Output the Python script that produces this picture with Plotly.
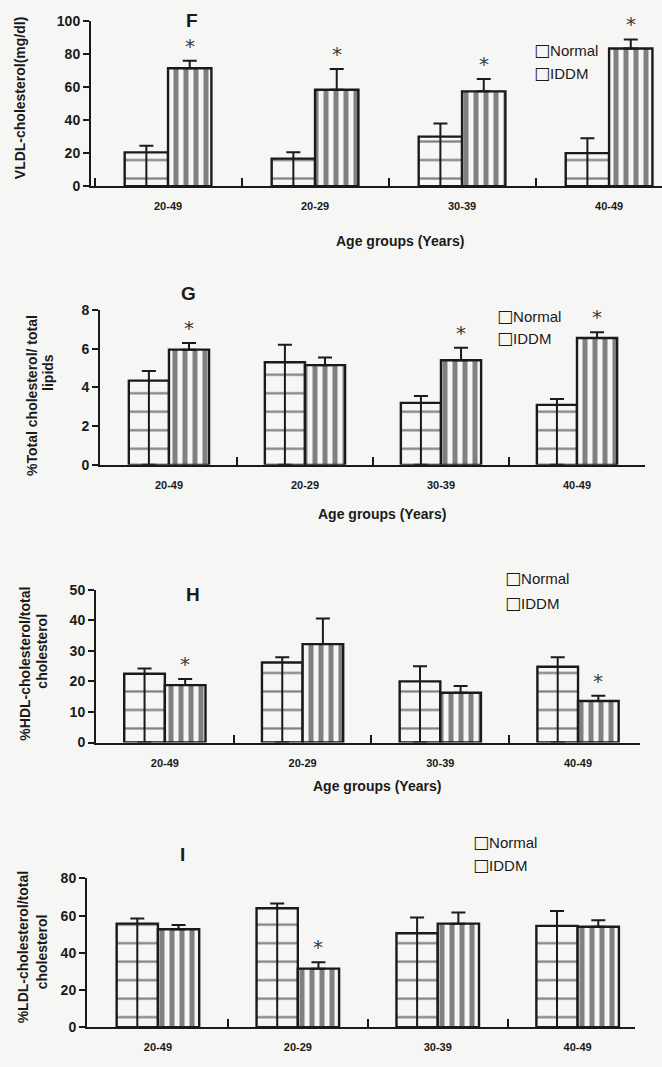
import plotly.graph_objects as go

# ---------------- data ----------------
groups = ["20-49", "20-29", "30-39", "40-49"]

vldl_normal = [20.5, 16.7, 30.0, 20.0]
vldl_normal_top = [24.5, 20.5, 38.0, 29.0]
vldl_iddm = [71.5, 58.5, 57.5, 83.5]
vldl_iddm_top = [76.0, 71.0, 65.0, 89.0]
vldl_star = [True, True, True, True]

tc_normal = [4.35, 5.3, 3.2, 3.1]
tc_normal_top = [4.85, 6.2, 3.55, 3.4]
tc_iddm = [5.95, 5.15, 5.4, 6.55]
tc_iddm_top = [6.3, 5.55, 6.05, 6.85]
tc_star = [True, False, True, True]

hdl_normal = [22.5, 26.2, 20.0, 24.8]
hdl_normal_top = [24.2, 27.9, 25.0, 27.9]
hdl_iddm = [18.8, 32.2, 16.3, 13.6]
hdl_iddm_top = [20.8, 40.6, 18.5, 15.3]
hdl_star = [True, False, False, True]

ldl_normal = [55.7, 64.0, 50.5, 54.5]
ldl_normal_top = [58.4, 66.5, 59.0, 62.5]
ldl_iddm = [52.7, 31.5, 55.7, 54.0]
ldl_iddm_top = [55.0, 35.0, 61.7, 57.5]
ldl_star = [False, True, False, False]

panel_letters = ["F", "G", "H", "I"]
y_titles = [
    ["VLDL-cholesterol(mg/dl)"],
    ["%Total cholesterol/ total", "lipids"],
    ["%HDL-cholesterol/total", "cholesterol"],
    ["%LDL-cholesterol/total", "cholesterol"],
]
y_max = [100, 8, 50, 80]
y_dtick = [20, 2, 10, 20]
x_title = "Age groups (Years)"
legend_labels = ["Normal", "IDDM"]

# ---------------- layout geometry (pixels) ----------------
W, H = 662, 1067
BG = "#f6f6f4"
INK = "#1a1a1a"


def px(x):
    return x / W


def py(y):
    # small vertical correction for how the page is captured
    ys = (y - 7.7) / 0.986
    return 1 - ys / H


panels_geo = [
    dict(x0=91, x1=662, ybot=186, ytop=21, xr=[-0.524, 3.36]),
    dict(x0=100, x1=645, ybot=465, ytop=310, xr=[-0.507, 3.5]),
    dict(x0=96, x1=640, ybot=743, ytop=590, xr=[-0.50, 3.45]),
    dict(x0=87, x1=635, ybot=1028, ytop=879, xr=[-0.507, 3.41]),
]
title_pos = [(192, 20), (188, 293), (193, 595), (183, 855)]
legend_pos = [(532, 50, 73), (495, 316, 338), (503, 578, 603), (471, 843, 866)]
xtitle_pos = [(400, 241), (382, 514), (377, 786), None]
ytitle_pos = [
    [(20, 98)],
    [(32, 396), (48, 373)],
    [(25, 664), (42, 652)],
    [(23, 948), (42, 953)],
]

data_sets = [
    (vldl_normal, vldl_normal_top, vldl_iddm, vldl_iddm_top, vldl_star),
    (tc_normal, tc_normal_top, tc_iddm, tc_iddm_top, tc_star),
    (hdl_normal, hdl_normal_top, hdl_iddm, hdl_iddm_top, hdl_star),
    (ldl_normal, ldl_normal_top, ldl_iddm, ldl_iddm_top, ldl_star),
]

BARGAP = 0.41

fig = go.Figure()
annotations = []
layout_axes = {}


def paper_text(x, y, text, size, bold=False, angle=0, xanchor="center"):
    font = dict(family="Liberation Sans", size=size, color=INK)
    if bold:
        font["weight"] = "bold"
    return dict(x=px(x), y=py(y), xref="paper", yref="paper", text=text,
                showarrow=False, xanchor=xanchor, yanchor="middle",
                textangle=angle, font=font)


for i, (nv, nt, dv, dt, stars) in enumerate(data_sets):
    k = "" if i == 0 else str(i + 1)
    xa, ya = "x" + k, "y" + k
    g = panels_geo[i]

    # Normal: horizontal-line pattern; the error bar runs from the base to the
    # upper limit, giving the single vertical divider seen in the original.
    fig.add_trace(go.Bar(
        x=groups, y=nv, name=legend_labels[0], xaxis=xa, yaxis=ya, showlegend=False,
        marker=dict(color=BG, line=dict(color=INK, width=2.4),
                    pattern=dict(shape="-", fgcolor="#0a0a0a", bgcolor=BG,
                                 size=18.5, solidity=0.12)),
        error_y=dict(type="data", symmetric=False,
                     array=[t - v for t, v in zip(nt, nv)],
                     arrayminus=nv,
                     color=INK, thickness=2, width=7),
    ))
    fig.add_trace(go.Bar(
        x=groups, y=dv, name=legend_labels[1], xaxis=xa, yaxis=ya, showlegend=False,
        marker=dict(color=BG, line=dict(color=INK, width=2.4),
                    pattern=dict(shape="|", fgcolor="#0a0a0a", bgcolor=BG,
                                 size=10, solidity=0.5)),
        error_y=dict(type="data", symmetric=False,
                     array=[t - v for t, v in zip(dt, dv)],
                     arrayminus=[0] * len(dv),
                     color=INK, thickness=2, width=7),
    ))

    spacing = (g["x1"] - g["x0"]) / (g["xr"][1] - g["xr"][0])
    iddm_shift = (1 - BARGAP) / 4 * spacing

    layout_axes["xaxis" + k] = dict(
        type="category", domain=[px(g["x0"]), px(g["x1"])], anchor=ya,
        range=g["xr"], showline=True, linecolor=INK, linewidth=2,
        ticks="inside", tickson="boundaries", ticklen=8, tickwidth=1.5,
        tickcolor=INK, showgrid=False, zeroline=False,
        tickfont=dict(family="Liberation Sans", size=11, color=INK, weight="bold"),
        ticklabelstandoff=9, fixedrange=True,
    )
    layout_axes["yaxis" + k] = dict(
        domain=[py(g["ybot"]), py(g["ytop"])], anchor=xa,
        range=[0, y_max[i]], dtick=y_dtick[i], showline=True, linecolor=INK,
        linewidth=2, ticks="outside", ticklen=6, tickwidth=2, tickcolor=INK,
        showgrid=False, zeroline=False,
        tickfont=dict(family="Liberation Sans", size=14, color=INK, weight="bold"),
        fixedrange=True,
    )

    for gname, top, s in zip(groups, dt, stars):
        if s:
            annotations.append(dict(
                x=gname, y=top, xref=xa, yref=ya, text="*", showarrow=False,
                xshift=iddm_shift, yshift=1, xanchor="center", yanchor="bottom",
                font=dict(family="DejaVu Sans", size=20, color="#3a3a3a"),
            ))

    tx, ty = title_pos[i]
    annotations.append(paper_text(tx, ty, panel_letters[i], 19, bold=True))

    lx, ly1, ly2 = legend_pos[i]
    for label, yy in zip(legend_labels, (ly1, ly2)):
        annotations.append(paper_text(
            lx, yy,
            "<span style='font-family:DejaVu Sans;font-size:17px'>□</span>" + label,
            15, xanchor="left"))

    if xtitle_pos[i] is not None:
        xx, yy = xtitle_pos[i]
        annotations.append(paper_text(xx, yy, x_title, 14, bold=True))

    for line, (xx, yy) in zip(y_titles[i], ytitle_pos[i]):
        annotations.append(paper_text(xx, yy, line, 14, bold=True, angle=-90))

fig.update_layout(
    width=W, height=H, margin=dict(l=0, r=0, t=0, b=0),
    paper_bgcolor=BG, plot_bgcolor=BG,
    barmode="group", bargap=BARGAP, bargroupgap=0,
    annotations=annotations, showlegend=False,
    **layout_axes,
)

fig.write_html("out.html",
               config={"displayModeBar": False},
               post_script="document.body.style.margin='0px';"
                           "document.body.style.overflow='hidden';")
